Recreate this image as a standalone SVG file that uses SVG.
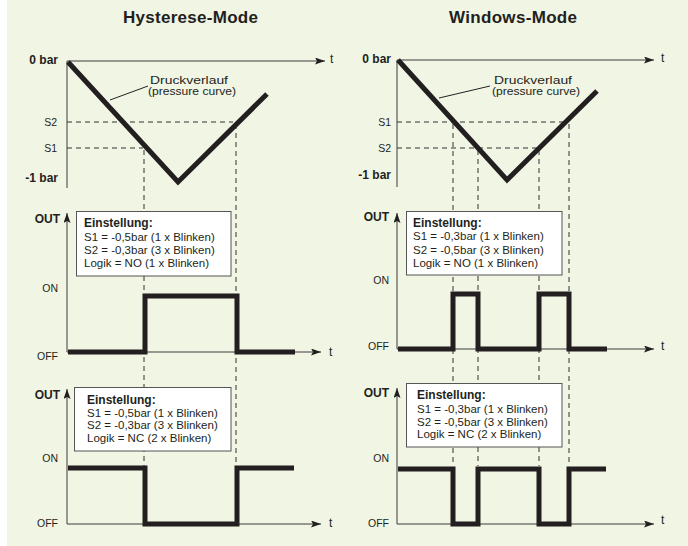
<svg xmlns="http://www.w3.org/2000/svg" width="688" height="546" viewBox="0 0 688 546">
<style>
text{font-family:"Liberation Sans",Arial,sans-serif;fill:#231f20}
.t{font-size:17px;font-weight:bold}
.b{font-size:12px;font-weight:bold}
.l{font-size:10.5px}
.bx{font-size:11.5px}
.c{font-size:12px}
.d{font-size:11.5px}
.ax{stroke:#3c3c3c;stroke-width:1;fill:none}
.th{stroke:#231f20;stroke-width:5;fill:none;stroke-linejoin:miter}
.ds{stroke:#333;stroke-width:1;stroke-dasharray:5 4;fill:none}
.box{fill:#fff;stroke:#555;stroke-width:1}
</style>
<defs>
<marker id="ar" viewBox="0 0 10 7" refX="10" refY="3.5" markerWidth="10" markerHeight="7" markerUnits="userSpaceOnUse" orient="auto">
<path d="M0,0 L10,3.5 L0,7 L2,3.5 z" fill="#231f20"/>
</marker>
</defs>
<rect x="7" y="0" width="681" height="546" fill="#f1f5e4"/>
<rect x="0" y="0" width="7" height="546" fill="#fff"/>

<text class="t" x="190.5" y="23" text-anchor="middle" textLength="135">Hysterese-Mode</text>
<text class="t" x="513" y="23" text-anchor="middle" textLength="128">Windows-Mode</text>

<g id="connectors">
<path class="ds" d="M67,122 H233 M67,148 H143 M144,150 V466 M236,124 V466"/>
<path class="ds" d="M397,122 H568 M397,148 H539 M453,124 V466 M478,150 V466 M539,150 V466 M569,124 V466"/>

<path class="ax" d="M67,188 V61 H325" marker-end="url(#ar)"/>
<path class="ax" d="M67,352 V213" marker-end="url(#ar)"/>
<path class="ax" d="M67,352 H321" marker-end="url(#ar)"/>
<path class="ax" d="M67,524 V389" marker-end="url(#ar)"/>
<path class="ax" d="M67,524 H321" marker-end="url(#ar)"/>

<path class="ax" d="M397,187 V60 H654" marker-end="url(#ar)"/>
<path class="ax" d="M397,349 V213" marker-end="url(#ar)"/>
<path class="ax" d="M397,349 H654" marker-end="url(#ar)"/>
<path class="ax" d="M397,524 V388" marker-end="url(#ar)"/>
<path class="ax" d="M397,524 H654" marker-end="url(#ar)"/>

<path class="th" d="M68,62 L178,182 L267,94"/>
<path class="th" d="M398,60 L507,180 L597,91"/>
<path d="M110,100 L148,86" stroke="#231f20" stroke-width="1"/>
<path d="M439,98 L490,86" stroke="#231f20" stroke-width="1"/>

<path class="th" d="M68,352 H145 V296 H237 V352 H295"/>
<path class="th" d="M68,468 H145 V524 H237 V468 H294"/>
<path class="th" d="M398,349 H453 V294 H478 V349 H539 V294 H569 V349 H607"/>
<path class="th" d="M398,469 H453 V524 H478 V469 H539 V524 H569 V469 H606"/>
</g>

<g id="labels-left">
<text class="b" x="58" y="64" text-anchor="end">0 bar</text>
<text class="l" x="57" y="126" text-anchor="end">S2</text>
<text class="l" x="57" y="152" text-anchor="end">S1</text>
<text class="b" x="58" y="182" text-anchor="end">-1 bar</text>
<text class="c" x="330" y="63">t</text>
<text class="d" x="150" y="83.5" textLength="78" lengthAdjust="spacingAndGlyphs">Druckverlauf</text>
<text class="d" x="148" y="95" textLength="88" lengthAdjust="spacingAndGlyphs">(pressure curve)</text>
<text class="b" x="60" y="223" text-anchor="end">OUT</text>
<text class="l" x="58" y="292" text-anchor="end">ON</text>
<text class="l" x="58" y="360" text-anchor="end">OFF</text>
<text class="c" x="329" y="356">t</text>
<text class="b" x="60" y="399" text-anchor="end">OUT</text>
<text class="l" x="58" y="462" text-anchor="end">ON</text>
<text class="l" x="58" y="527" text-anchor="end">OFF</text>
<text class="c" x="329" y="527">t</text>
</g>

<g id="labels-right">
<text class="b" x="391" y="63" text-anchor="end">0 bar</text>
<text class="l" x="391" y="126" text-anchor="end">S1</text>
<text class="l" x="391" y="152" text-anchor="end">S2</text>
<text class="b" x="391" y="179" text-anchor="end">-1 bar</text>
<text class="c" x="661" y="62">t</text>
<text class="d" x="494" y="83.5" textLength="78" lengthAdjust="spacingAndGlyphs">Druckverlauf</text>
<text class="d" x="492" y="95" textLength="88" lengthAdjust="spacingAndGlyphs">(pressure curve)</text>
<text class="b" x="389" y="221" text-anchor="end">OUT</text>
<text class="l" x="389" y="284" text-anchor="end">ON</text>
<text class="l" x="389" y="350" text-anchor="end">OFF</text>
<text class="c" x="661" y="350">t</text>
<text class="b" x="389" y="397" text-anchor="end">OUT</text>
<text class="l" x="389" y="462" text-anchor="end">ON</text>
<text class="l" x="389" y="527" text-anchor="end">OFF</text>
<text class="c" x="661" y="524">t</text>
</g>

<g id="box-hyst-no">
<rect class="box" x="76.5" y="211.5" width="154.5" height="64.5"/>
<text class="b" x="84" y="227">Einstellung:</text>
<text class="bx" x="84" y="241">S1 = -0,5bar (1 x Blinken)</text>
<text class="bx" x="84" y="254">S2 = -0,3bar (3 x Blinken)</text>
<text class="bx" x="84" y="267">Logik = NO (1 x Blinken)</text>
</g>
<g id="box-hyst-nc">
<rect class="box" x="74.5" y="387.5" width="156.5" height="63.5"/>
<text class="b" x="87" y="404">Einstellung:</text>
<text class="bx" x="87" y="417">S1 = -0,5bar (1 x Blinken)</text>
<text class="bx" x="87" y="429">S2 = -0,3bar (3 x Blinken)</text>
<text class="bx" x="87" y="442">Logik = NC (2 x Blinken)</text>
</g>
<g id="box-win-no">
<rect class="box" x="406.5" y="211.5" width="155.5" height="63.5"/>
<text class="b" x="413" y="227">Einstellung:</text>
<text class="bx" x="413" y="240">S1 = -0,3bar (1 x Blinken)</text>
<text class="bx" x="413" y="254">S2 = -0,5bar (3 x Blinken)</text>
<text class="bx" x="413" y="267">Logik = NO (1 x Blinken)</text>
</g>
<g id="box-win-nc">
<rect class="box" x="406.5" y="383.5" width="155.5" height="63.5"/>
<text class="b" x="417" y="399">Einstellung:</text>
<text class="bx" x="417" y="413">S1 = -0,3bar (1 x Blinken)</text>
<text class="bx" x="417" y="426">S2 = -0,5bar (3 x Blinken)</text>
<text class="bx" x="417" y="438">Logik = NC (2 x Blinken)</text>
</g>
</svg>
